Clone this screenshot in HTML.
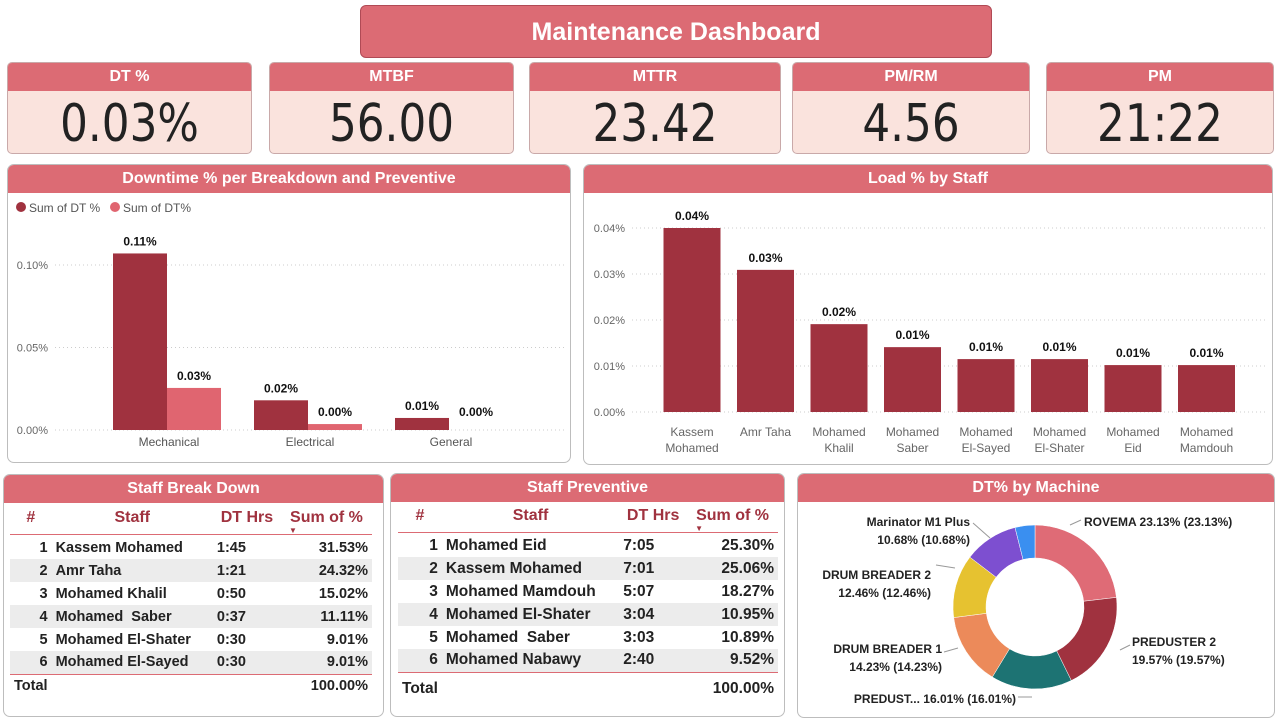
<!DOCTYPE html>
<html><head><meta charset="utf-8"><style>
*{box-sizing:border-box;margin:0;padding:0}
body{width:1280px;height:722px;background:#fff;font-family:"Liberation Sans",sans-serif;position:relative;overflow:hidden}
.abs{position:absolute}
.title{left:360px;top:5px;width:632px;height:53px;background:#dc6b74;border:1px solid #b04a55;border-radius:6px;color:#fff;font-weight:bold;font-size:25px;text-align:center;line-height:52px}
.card{top:62px;height:92px;border:1px solid #c9a9a9;border-radius:5px;background:#fae3dd;overflow:hidden}
.card .h{height:28px;background:#dc6b74;color:#fff;font-weight:bold;font-size:16px;text-align:center;line-height:28px}
.card .v{text-align:center;font-size:52px;line-height:66px;color:#222;font-family:"DejaVu Sans","Liberation Sans",sans-serif;transform:scaleX(0.84)}
.panel{border:1px solid #bdbdbd;border-radius:7px;background:#fff;overflow:hidden}
.panel .h{height:28px;background:#dc6b74;color:#fff;font-weight:bold;font-size:16px;text-align:center;line-height:28px}
table{border-collapse:collapse;font-size:14.5px;font-weight:bold;color:#222}
td,th{height:23px;padding:0 4px;white-space:nowrap}
th{color:#a0323f;font-size:16px;height:32px;vertical-align:middle}
tr.g td{background:#ececec}
</style></head><body>
<div class="abs title">Maintenance Dashboard</div>

<div class="abs card" style="left:7px;width:245px"><div class="h">DT %</div><div class="v">0.03%</div></div>
<div class="abs card" style="left:269px;width:245px"><div class="h">MTBF</div><div class="v">56.00</div></div>
<div class="abs card" style="left:529px;width:252px"><div class="h">MTTR</div><div class="v">23.42</div></div>
<div class="abs card" style="left:792px;width:238px"><div class="h">PM/RM</div><div class="v">4.56</div></div>
<div class="abs card" style="left:1046px;width:228px"><div class="h">PM</div><div class="v">21:22</div></div>

<div class="abs panel" style="left:7px;top:164px;width:564px;height:299px"><div class="h">Downtime % per Breakdown and Preventive</div></div>
<div class="abs panel" style="left:583px;top:164px;width:690px;height:301px"><div class="h">Load % by Staff</div></div>
<div class="abs panel" style="left:3px;top:474px;width:381px;height:243px"><div class="h">Staff Break Down</div></div>
<div class="abs panel" style="left:390px;top:473px;width:395px;height:244px"><div class="h">Staff Preventive</div></div>
<div class="abs panel" style="left:797px;top:473px;width:478px;height:245px"><div class="h">DT% by Machine</div></div>

<svg class="abs" style="left:0;top:0" width="1280" height="722" id="svg" font-family="Liberation Sans, sans-serif"></svg>

<div class="abs" style="left:10px;top:502px;width:370px">
<table style="width:362px">
<tr style="border-bottom:1px solid #dc6b74"><th style="width:30px">#</th><th style="text-align:center">Staff</th><th>DT Hrs</th><th style="position:relative">Sum of %<span style="position:absolute;left:8px;top:24px;font-size:8px">▼</span></th></tr>
<tr><td style="height:2px" colspan=4></td></tr>
<tr><td align=right>1</td><td>Kassem Mohamed</td><td>1:45</td><td align=right>31.53%</td></tr>
<tr class="g"><td align=right>2</td><td>Amr Taha</td><td>1:21</td><td align=right>24.32%</td></tr>
<tr><td align=right>3</td><td>Mohamed Khalil</td><td>0:50</td><td align=right>15.02%</td></tr>
<tr class="g"><td align=right>4</td><td>Mohamed&nbsp; Saber</td><td>0:37</td><td align=right>11.11%</td></tr>
<tr><td align=right>5</td><td>Mohamed El-Shater</td><td>0:30</td><td align=right>9.01%</td></tr>
<tr class="g" style="border-bottom:1px solid #dc6b74"><td align=right>6</td><td>Mohamed El-Sayed</td><td>0:30</td><td align=right>9.01%</td></tr>
<tr><td style="text-align:left">Total</td><td></td><td></td><td align=right>100.00%</td></tr>
</table></div>

<div class="abs" style="left:398px;top:500px;width:385px">
<table style="width:380px;font-size:15.5px">
<tr style="border-bottom:1px solid #dc6b74"><th style="width:30px">#</th><th>Staff</th><th>DT Hrs</th><th style="position:relative">Sum of %<span style="position:absolute;left:8px;top:24px;font-size:8px">▼</span></th></tr>
<tr><td style="height:2px" colspan=4></td></tr>
<tr><td align=right>1</td><td>Mohamed Eid</td><td>7:05</td><td align=right>25.30%</td></tr>
<tr class="g"><td align=right>2</td><td>Kassem Mohamed</td><td>7:01</td><td align=right>25.06%</td></tr>
<tr><td align=right>3</td><td>Mohamed Mamdouh</td><td>5:07</td><td align=right>18.27%</td></tr>
<tr class="g"><td align=right>4</td><td>Mohamed El-Shater</td><td>3:04</td><td align=right>10.95%</td></tr>
<tr><td align=right>5</td><td>Mohamed&nbsp; Saber</td><td>3:03</td><td align=right>10.89%</td></tr>
<tr class="g" style="border-bottom:1px solid #dc6b74"><td align=right>6</td><td>Mohamed Nabawy</td><td>2:40</td><td align=right>9.52%</td></tr>
<tr><td style="text-align:left;height:34px">Total</td><td></td><td></td><td align=right>100.00%</td></tr>
</table></div>

<script>
// Downtime chart data
const dtCategories = ["Mechanical","Electrical","General"];
const dtSeriesA = [0.107,0.018,0.0073];
const dtSeriesB = [0.0255,0.0036,0.0];
const dtLabelsA = ["0.11%","0.02%","0.01%"];
const dtLabelsB = ["0.03%","0.00%","0.00%"];
const dtTicks = [0,0.05,0.10];
const dtTickLabels = ["0.00%","0.05%","0.10%"];
// Load chart data
const loadStaff = [["Kassem","Mohamed"],["Amr Taha"],["Mohamed","Khalil"],["Mohamed","Saber"],["Mohamed","El-Sayed"],["Mohamed","El-Shater"],["Mohamed","Eid"],["Mohamed","Mamdouh"]];
const loadValues = [0.040,0.0309,0.0191,0.0141,0.0115,0.0115,0.0102,0.0102];
const loadLabels = ["0.04%","0.03%","0.02%","0.01%","0.01%","0.01%","0.01%","0.01%"];
const loadTicks = [0,0.01,0.02,0.03,0.04];
const loadTickLabels = ["0.00%","0.01%","0.02%","0.03%","0.04%"];
// Donut data
const machNames = ["ROVEMA","PREDUSTER 2","PREDUST...","DRUM BREADER 1","DRUM BREADER 2","Marinator M1 Plus","Other"];
const machValues = [23.13,19.57,16.01,14.23,12.46,10.68,3.92];

const svg=document.getElementById('svg');const NS='http://www.w3.org/2000/svg';
function mk(t,a,txt){const e=document.createElementNS(NS,t);for(const k in a)e.setAttribute(k,a[k]);if(txt!==undefined)e.textContent=txt;svg.appendChild(e);return e;}

let e;
e=mk('circle',{cx:21,cy:207,r:5,fill:'#a0323f'});
e=mk('text',{x:29,y:212,'font-size':12,fill:'#555'},'Sum of DT %');
e=mk('circle',{cx:115,cy:207,r:5,fill:'#e06570'});
e=mk('text',{x:123,y:212,'font-size':12,fill:'#555'},'Sum of DT%');

const dy=v=>430-v/0.05*82.5;
const dx=i=>167+i*141;
dtTicks.forEach((t,i)=>{
 e=mk('line',{x1:55,x2:565,y1:dy(t),y2:dy(t),stroke:'#ccc','stroke-dasharray':'1 3'});
 e=mk('text',{x:48,y:dy(t)+4,'font-size':11,fill:'#666','text-anchor':'end'},dtTickLabels[i]);
});
dtCategories.forEach((c,i)=>{
 const cx=dx(i);
 e=mk('rect',{x:cx-54,y:dy(dtSeriesA[i]),width:54,height:430-dy(dtSeriesA[i]),fill:'#a0323f'});
 e=mk('rect',{x:cx,y:dy(dtSeriesB[i]),width:54,height:430-dy(dtSeriesB[i]),fill:'#e06570'});
 e=mk('text',{x:cx-27,y:dy(dtSeriesA[i])-8,'font-size':12,'font-weight':'bold','text-anchor':'middle',fill:'#111'},dtLabelsA[i]);
 e=mk('text',{x:cx+27,y:Math.min(dy(dtSeriesB[i]),424)-8,'font-size':12,'font-weight':'bold','text-anchor':'middle',fill:'#111'},dtLabelsB[i]);
 e=mk('text',{x:cx+2,y:446,'font-size':12,'text-anchor':'middle',fill:'#555'},c);
});

const ly=v=>412-v/0.04*184;
const lx=i=>692+i*73.5;
loadTicks.forEach((t,i)=>{
 e=mk('line',{x1:632,x2:1268,y1:ly(t),y2:ly(t),stroke:'#ccc','stroke-dasharray':'1 3'});
 e=mk('text',{x:625,y:ly(t)+4,'font-size':11,fill:'#666','text-anchor':'end'},loadTickLabels[i]);
});
loadValues.forEach((v,i)=>{
 const cx=lx(i);
 e=mk('rect',{x:cx-28.5,y:ly(v),width:57,height:412-ly(v),fill:'#a0323f'});
 e=mk('text',{x:cx,y:ly(v)-8,'font-size':12,'font-weight':'bold','text-anchor':'middle',fill:'#111'},loadLabels[i]);
 loadStaff[i].forEach((ln,j)=>{e=mk('text',{x:cx,y:436+j*16,'font-size':12,'text-anchor':'middle',fill:'#666'},ln);});
});

const colors=['#df6b76','#a0323f','#1d7373','#ec8a5a','#e6c230','#7d4fd0','#3a8ff0'];
const CX=1035,CY=607,RO=82,RI=49;
const tot=machValues.reduce((a,b)=>a+b,0);
let a0=0;
machValues.forEach((v,i)=>{
 const a1=a0+v/tot*Math.PI*2;
 const p=(r,a)=>[CX+r*Math.sin(a),CY-r*Math.cos(a)];
 const la=(a1-a0)>Math.PI?1:0;
 const [x1,y1]=p(RO,a0),[x2,y2]=p(RO,a1),[x3,y3]=p(RI,a1),[x4,y4]=p(RI,a0);
 e=mk('path',{d:`M${x1},${y1}A${RO},${RO} 0 ${la} 1 ${x2},${y2}L${x3},${y3}A${RI},${RI} 0 ${la} 0 ${x4},${y4}Z`,fill:colors[i],stroke:'#fff','stroke-width':0.5});
 
 a0=a1;
});
const labs=[
 [1084,526,'start',['ROVEMA 23.13% (23.13%)']],
 [1132,646,'start',['PREDUSTER 2','19.57% (19.57%)']],
 [1016,703,'end',['PREDUST... 16.01% (16.01%)']],
 [942,653,'end',['DRUM BREADER 1','14.23% (14.23%)']],
 [931,579,'end',['DRUM BREADER 2','12.46% (12.46%)']],
 [970,526,'end',['Marinator M1 Plus','10.68% (10.68%)']]
];
labs.forEach(l=>{l[3].forEach((t,j)=>{e=mk('text',{x:l[0],y:l[1]+j*18,'font-size':12,'font-weight':'bold','text-anchor':l[2]=='end'?'end':'start',fill:'#222'},t);});});
[[1070,525,1081,520],[1120,650,1130,645],[1018,697,1032,697],[944,652,958,648],[936,565,955,568],[973,523,990,538]].forEach(s=>{e=mk('polyline',{points:`${s[0]},${s[1]} ${s[2]},${s[3]}`,stroke:'#999',fill:'none'});});
</script>
</body></html>
